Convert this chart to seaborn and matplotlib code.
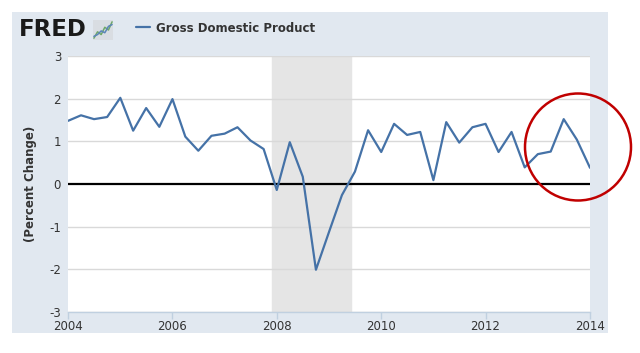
import pandas as pd
import matplotlib.pyplot as plt
import seaborn as sns
from matplotlib.patches import Rectangle, Ellipse

# quarterly percent change of GDP, 2004Q1 .. 2014Q1
quarters = pd.date_range("2004-01-01", "2014-01-01", freq="QS")
gdp = [1.48, 1.61, 1.52, 1.57, 2.02, 1.25, 1.78, 1.34, 1.99, 1.11,
       0.78, 1.13, 1.18, 1.33, 1.02, 0.82, -0.14, 0.98, 0.17, -2.01,
       -1.12, -0.26, 0.29, 1.26, 0.75, 1.41, 1.15, 1.22, 0.09, 1.45,
       0.97, 1.33, 1.41, 0.75, 1.22, 0.39, 0.70, 0.76, 1.52, 1.04, 0.38]
recession = ["2007-12-01", "2009-06-01"]
year_ticks = [2004, 2006, 2008, 2010, 2012, 2014]
y_ticks = [-3, -2, -1, 0, 1, 2, 3]
logo_a = [0.2, 0.9, 0.6, 1.4, 1.1, 2.0]
logo_b = [0.4, 0.6, 1.0, 0.8, 1.5, 1.7]

df = pd.DataFrame({"date": quarters, "gdp": gdp})

sns.set_theme(style="white")
plt.rcParams["font.family"] = ["DejaVu Sans"]

fig = plt.figure(figsize=(6.4, 3.53), dpi=100)
fig.patch.set_facecolor("white")
fig.patches.append(Rectangle((12 / 640, 20 / 353), 596 / 640, 321 / 353,
                             transform=fig.transFigure, facecolor="#e1e8f0",
                             edgecolor="none", zorder=-10))

ax = fig.add_axes([68 / 640, 41 / 353, 522 / 640, 256 / 353])
ax.set_facecolor("white")

ax.axvspan(pd.Timestamp(recession[0]), pd.Timestamp(recession[1]),
           color="#e5e5e5", zorder=0)
for v in y_ticks:
    if v != 0:
        ax.axhline(v, color="#d9d9d9", lw=1, zorder=1)
ax.axhline(0, color="black", lw=1.6, zorder=2)

sns.lineplot(data=df, x="date", y="gdp", ax=ax, color="#4572a7", lw=1.6,
             label="Gross Domestic Product", zorder=3)

ax.set_xlim(pd.Timestamp("2004-01-01"), pd.Timestamp("2014-01-01"))
ax.set_ylim(-3, 3)
ax.set_xticks([pd.Timestamp(f"{y}-01-01") for y in year_ticks])
ax.set_xticklabels([str(y) for y in year_ticks])
ax.set_yticks(y_ticks)
ax.set_yticklabels([str(v) for v in y_ticks])
ax.tick_params(axis="x", colors="#c0d0e0", length=5, width=1, labelsize=8.5,
               labelcolor="#333333", pad=1, bottom=True)
ax.tick_params(axis="y", length=0, labelsize=8.5, labelcolor="#333333", pad=5)
ax.set_xlabel("")
ax.set_ylabel("(Percent Change)", fontsize=8.5, fontweight="bold",
              color="#333333", labelpad=9)
for side in ["top", "right", "left"]:
    ax.spines[side].set_visible(False)
ax.spines["bottom"].set_color("#c0d0e0")
ax.spines["bottom"].set_linewidth(1)

ax.get_legend().remove()
handles, labels = ax.get_legend_handles_labels()
fig.legend(handles, labels, loc="center left", bbox_to_anchor=(125 / 640, 1 - 28 / 353),
           frameon=False, handlelength=1.2, handletextpad=0.5,
           prop={"weight": "bold", "size": 8.5}, labelcolor="#333333")

fig.text(19 / 640, 1 - 30 / 353, "FRED", fontsize=16.5, fontweight="heavy",
         color="#1a1a1a", va="center", ha="left")
logo = fig.add_axes([93 / 640, 1 - 40 / 353, 20 / 640, 20 / 353])
logo.set_facecolor("#d9dde2")
logo.plot(logo_a, color="#6fa86b", lw=1.1)
logo.plot(logo_b, color="#5b85b8", lw=1.1)
logo.set_ylim(0, 2.2)
logo.set_xticks([])
logo.set_yticks([])
for s in logo.spines.values():
    s.set_visible(False)

fig.patches.append(Ellipse((578 / 640, 1 - 147 / 353), 106 / 640, 107 / 353,
                           transform=fig.transFigure, fill=False,
                           edgecolor="#c00000", lw=1.8, zorder=10))

fig.savefig("out.png", dpi=100)
